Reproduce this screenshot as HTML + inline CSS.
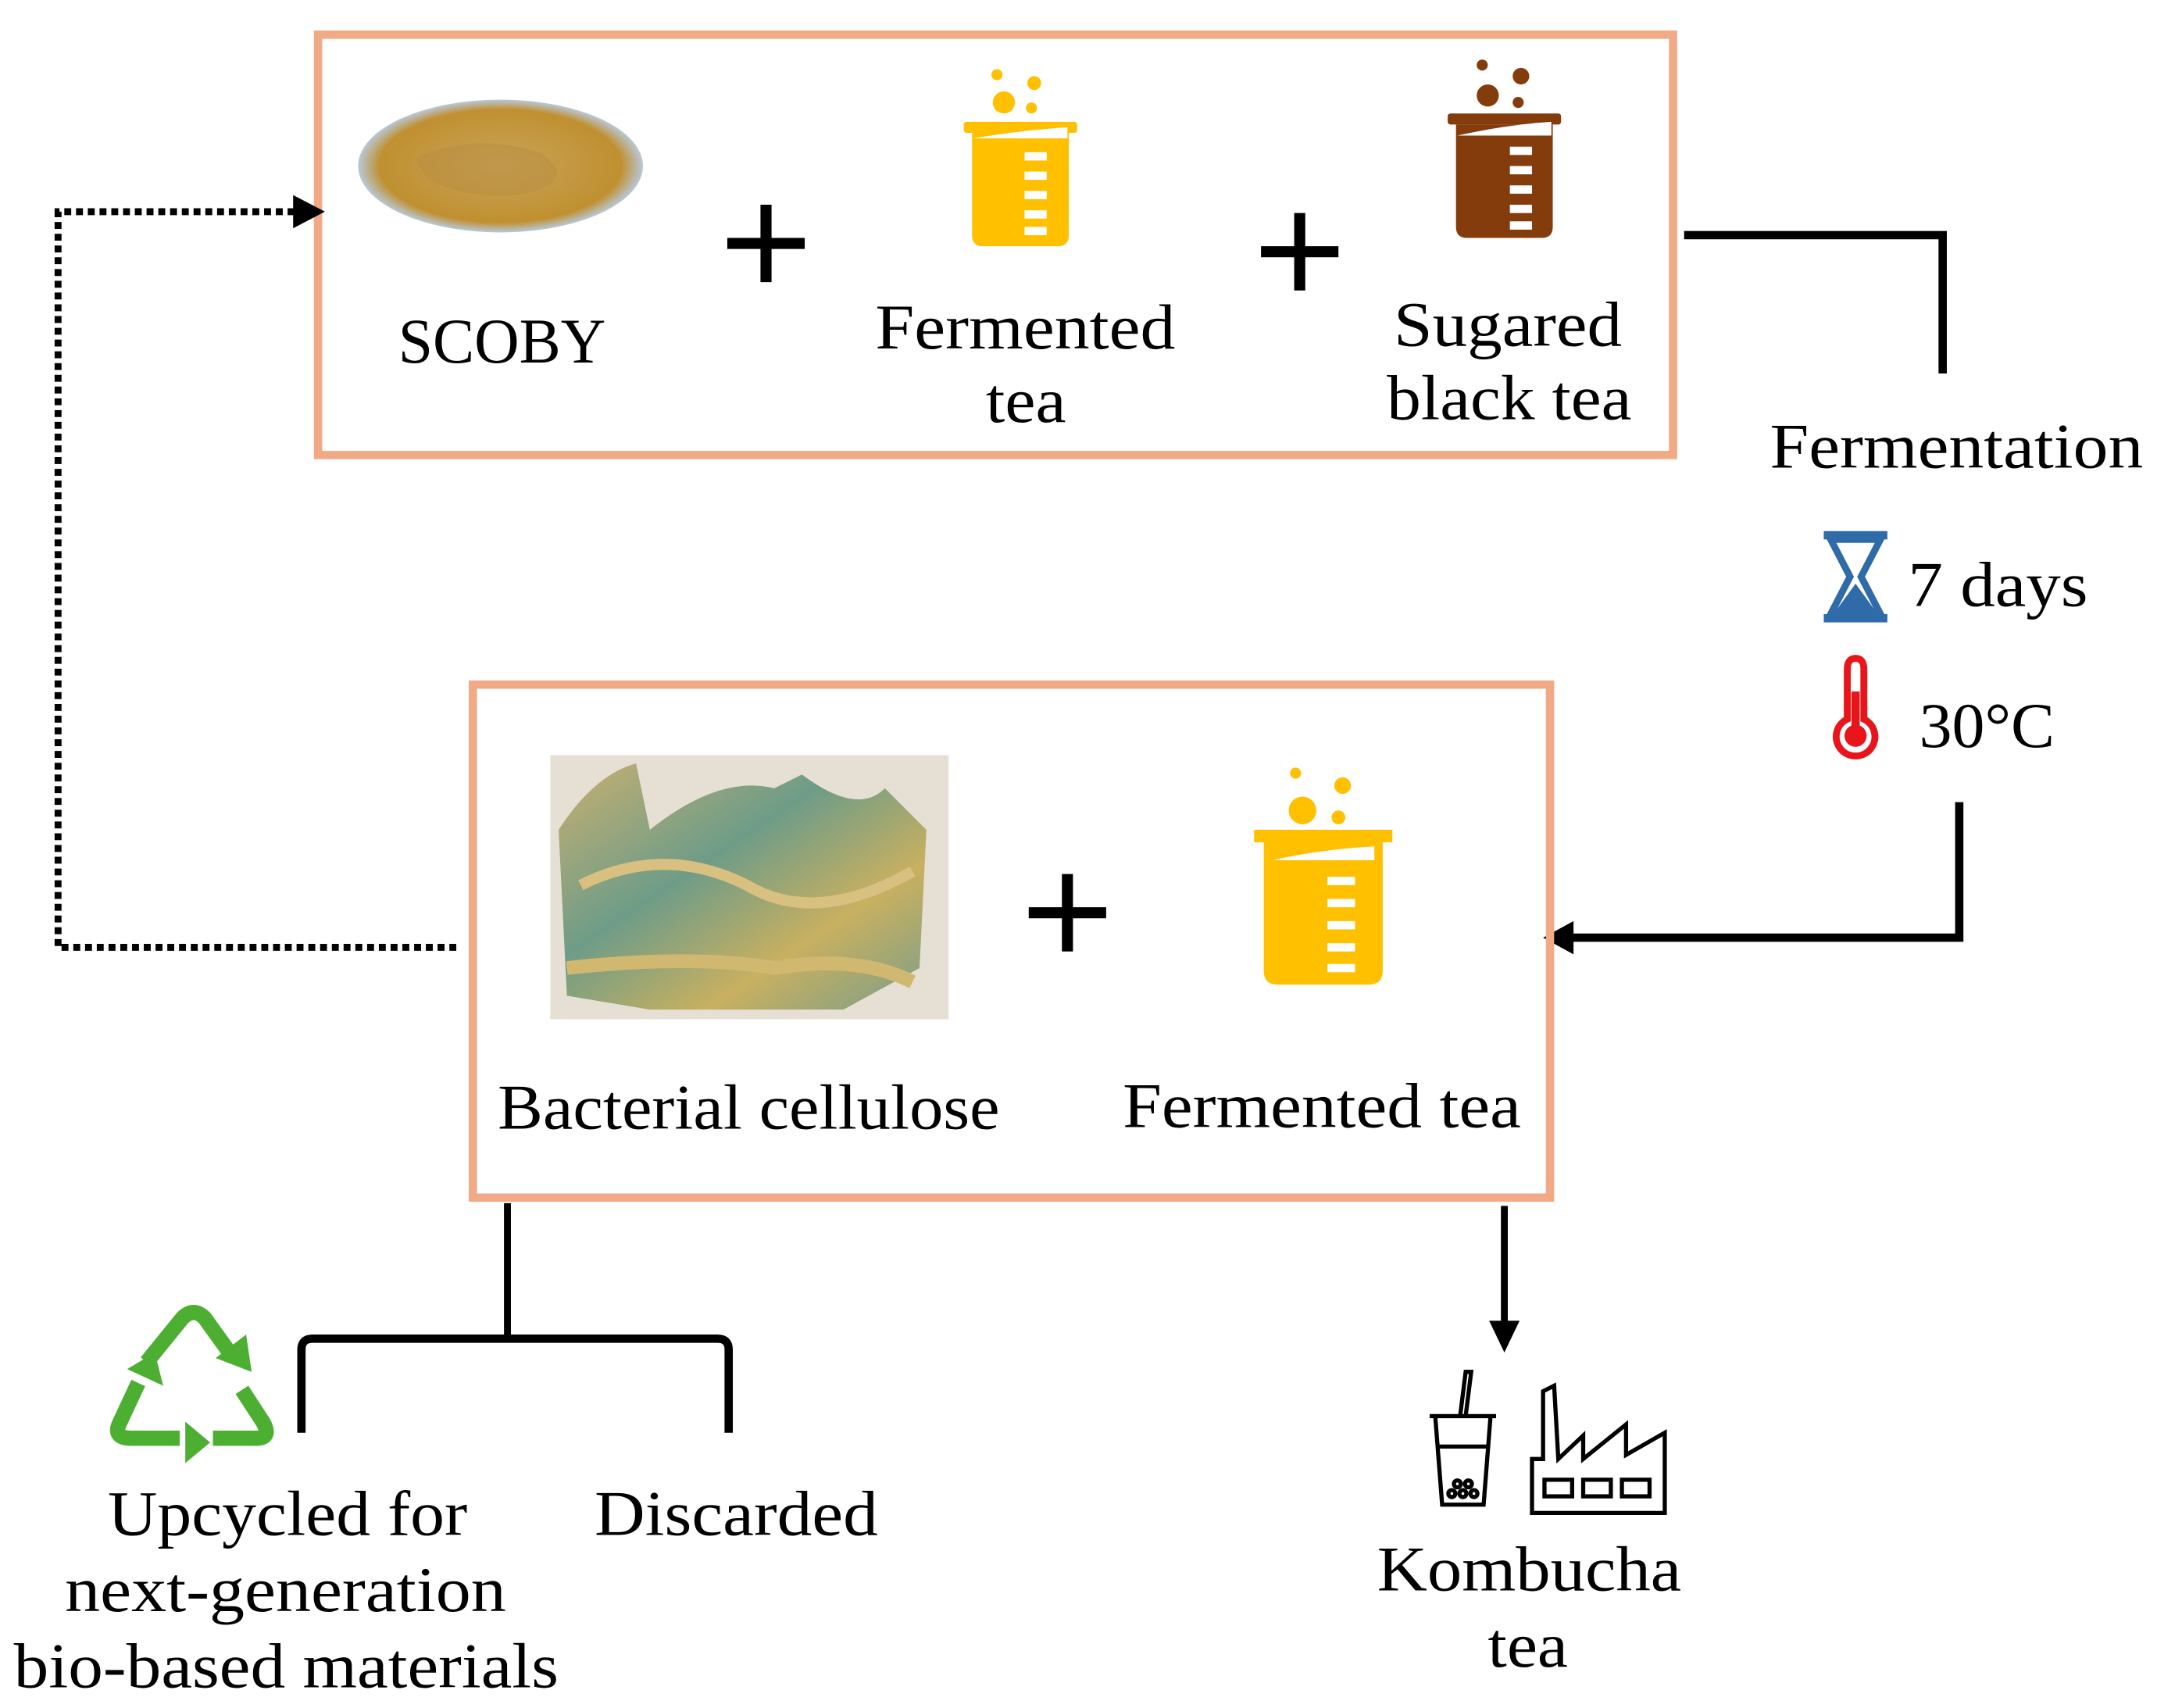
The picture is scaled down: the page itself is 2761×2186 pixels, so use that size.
<!DOCTYPE html>
<html><head><meta charset="utf-8"><style>
html,body{margin:0;padding:0;background:#fff;}
svg{display:block}
text{font-family:"Liberation Serif",serif;fill:#000;}
</style></head><body>
<svg width="2761" height="2186" viewBox="0 0 1560 1235" xmlns="http://www.w3.org/2000/svg">
<defs>
<radialGradient id="sc" cx="50%" cy="50%" r="50%"><stop offset="0" stop-color="#C9A45A"/><stop offset="0.85" stop-color="#C09030"/><stop offset="1" stop-color="#B8C8D8"/></radialGradient>
<linearGradient id="bc" x1="0" y1="0" x2="1" y2="1"><stop offset="0" stop-color="#C8B070"/><stop offset="0.4" stop-color="#6E9C88"/><stop offset="0.7" stop-color="#C8B060"/><stop offset="1" stop-color="#7A9E8A"/></linearGradient>
<g id="bk">
<rect x="-41" y="0" width="82" height="8" rx="2"/>
<path d="M-35,8 L35,8 L35,82 Q35,90 27,90 L-27,90 Q-35,90 -35,82Z"/>
</g>
</defs>
<rect x="230" y="25" width="980" height="304" fill="none" stroke="#F2AA86" stroke-width="6"/>
<ellipse cx="362" cy="120" rx="103" ry="48" fill="url(#sc)"/>
<path d="M300,115 Q340,95 390,110 Q420,130 380,140 Q340,145 310,130Z" fill="#B88C40" opacity="0.5"/>
<text x="288" y="262" font-size="46" textLength="150" lengthAdjust="spacingAndGlyphs">SCOBY</text>
<path d="M526,176 H582 M554,148 V204" stroke="#000" stroke-width="8"/>
<g fill="#FFC000">
<use href="#bk" transform="translate(738,88)"/>
<circle cx="726" cy="74" r="8"/><circle cx="748" cy="60" r="5"/><circle cx="746" cy="78" r="4"/><circle cx="721" cy="54" r="4"/>
</g>
<g fill="#fff"><rect x="741" y="110" width="16" height="6"/><rect x="741" y="124" width="16" height="6"/><rect x="741" y="138" width="16" height="6"/><rect x="741" y="152" width="16" height="6"/><rect x="741" y="164" width="16" height="6"/><path d="M704,100 L772,100 L772,92 Q740,94 704,100Z"/></g>
<text x="633" y="252" font-size="46" textLength="217" lengthAdjust="spacingAndGlyphs">Fermented</text>
<text x="713" y="305" font-size="46" textLength="58" lengthAdjust="spacingAndGlyphs">tea</text>
<path d="M912,182 H968 M940,154 V210" stroke="#000" stroke-width="8"/>
<g fill="#843C0C">
<use href="#bk" transform="translate(1088,82)"/>
<circle cx="1076" cy="69" r="8"/><circle cx="1100" cy="55" r="6"/><circle cx="1098" cy="74" r="4"/><circle cx="1072" cy="47" r="4"/>
</g>
<g fill="#fff"><rect x="1092" y="106" width="16" height="6"/><rect x="1092" y="120" width="16" height="6"/><rect x="1092" y="134" width="16" height="6"/><rect x="1092" y="148" width="16" height="6"/><rect x="1092" y="160" width="16" height="6"/><path d="M1054,98 L1122,98 L1122,88 Q1090,90 1054,98Z"/></g>
<text x="1008" y="250" font-size="46" textLength="165" lengthAdjust="spacingAndGlyphs">Sugared</text>
<text x="1003" y="303" font-size="46" textLength="177" lengthAdjust="spacingAndGlyphs">black tea</text>
<path d="M1218,170 H1405 V270" fill="none" stroke="#000" stroke-width="6"/>
<text x="1280" y="338" font-size="46" textLength="270" lengthAdjust="spacingAndGlyphs">Fermentation</text>
<g fill="#2E6BA8"><rect x="1319" y="384" width="46" height="6"/><rect x="1319" y="444" width="46" height="6"/>
<path d="M1324,390 H1360 L1346,417 L1360,444 H1324 L1338,417Z" fill="none" stroke="#2E6BA8" stroke-width="5"/>
<path d="M1342,422 L1358,444 H1326Z"/></g>
<text x="1380" y="438" font-size="46" textLength="130" lengthAdjust="spacingAndGlyphs">7 days</text>
<g fill="none" stroke="#E8161B" stroke-width="5"><path d="M1336,520 V484 Q1336,476 1342,476 Q1348,476 1348,484 V520 A14,14 0 1,1 1336,520Z"/></g>
<circle cx="1342" cy="532" r="8" fill="#E8161B"/><rect x="1339" y="500" width="6" height="32" fill="#E8161B"/>
<text x="1388" y="540" font-size="46" textLength="98" lengthAdjust="spacingAndGlyphs">30°C</text>
<path d="M1417,580 V678 H1130" fill="none" stroke="#000" stroke-width="6"/>
<path d="M1116,678 L1138,666 L1138,690Z" fill="#000"/>
<rect x="342" y="495" width="779" height="371" fill="none" stroke="#F2AA86" stroke-width="6"/>
<rect x="398" y="546" width="288" height="191" fill="#E6E0D4"/>
<path d="M410,720 L404,600 Q430,560 460,552 L470,600 Q520,560 560,570 L580,560 Q620,590 640,570 L670,600 L665,700 L610,730 L470,730Z" fill="url(#bc)"/>
<path d="M420,640 Q480,610 540,640 Q590,670 660,630" stroke="#D8C080" stroke-width="8" fill="none"/>
<path d="M410,700 Q500,690 560,700 Q620,690 660,710" stroke="#D0B870" stroke-width="10" fill="none"/>
<path d="M744,660 H800 M772,632 V688" stroke="#000" stroke-width="8"/>
<g fill="#FFC000">
<path d="M907,600 H1007 V609 H907Z"/>
<path d="M914,609 L1000,609 L1000,702 Q1000,712 990,712 L924,712 Q914,712 914,702Z"/>
<circle cx="942" cy="586" r="10"/><circle cx="971" cy="568" r="6"/><circle cx="968" cy="591" r="5"/><circle cx="937" cy="559" r="4"/>
</g>
<g fill="#fff"><rect x="960" y="634" width="20" height="6"/><rect x="960" y="650" width="20" height="6"/><rect x="960" y="666" width="20" height="6"/><rect x="960" y="682" width="20" height="6"/><rect x="960" y="697" width="20" height="6"/><path d="M920,622 L994,622 L994,612 Q956,614 920,622Z"/></g>
<text x="360" y="816" font-size="46" textLength="363" lengthAdjust="spacingAndGlyphs">Bacterial cellulose</text>
<text x="812" y="815" font-size="46" textLength="288" lengthAdjust="spacingAndGlyphs">Fermented tea</text>
<path d="M330,685 H42 V153 H215" fill="none" stroke="#000" stroke-width="5" stroke-dasharray="5 3.5"/>
<path d="M235,153 L212,141 L212,165Z" fill="#000"/>
<path d="M367,870 V968" stroke="#000" stroke-width="5"/>
<path d="M218,1036 V976 Q218,968 226,968 H519 Q527,968 527,976 V1036" fill="none" stroke="#000" stroke-width="6"/>
<g fill="none" stroke="#4DAF32" stroke-width="11" stroke-linejoin="round">
<path d="M106,985 L132,953 Q140,945 148,953 L166,978"/>
<path d="M100,1000 L86,1030 Q82,1040 95,1040 L130,1040"/>
<path d="M154,1040 L185,1040 Q197,1040 190,1028 L175,1005"/>
</g>
<g fill="#4DAF32"><path d="M156,982 L182,992 L178,965Z"/><path d="M92,990 L112,978 L118,1002Z"/><path d="M134,1028 L134,1058 L152,1043Z"/></g>
<text x="78" y="1110" font-size="46" textLength="260" lengthAdjust="spacingAndGlyphs">Upcycled for</text>
<text x="47" y="1165" font-size="46" textLength="319" lengthAdjust="spacingAndGlyphs">next-generation</text>
<text x="10" y="1220" font-size="46" textLength="394" lengthAdjust="spacingAndGlyphs">bio-based materials</text>
<text x="430" y="1110" font-size="46" textLength="205" lengthAdjust="spacingAndGlyphs">Discarded</text>
<path d="M1088,872 V960" stroke="#000" stroke-width="5"/>
<path d="M1088,978 L1077,955 L1099,955Z" fill="#000"/>
<g fill="none" stroke="#000" stroke-width="3">
<path d="M1034,1024 H1082 M1038,1024 L1043,1088 H1073 L1078,1024 M1040,1046 H1076"/>
<path d="M1056,1024 L1060,992 L1064,992 L1060,1024"/>
<circle cx="1050" cy="1080" r="2.5"/><circle cx="1058" cy="1080" r="2.5"/><circle cx="1066" cy="1080" r="2.5"/><circle cx="1054" cy="1073" r="2.5"/><circle cx="1062" cy="1073" r="2.5"/>
<path d="M1108,1094 V1055 L1116,1055 V1006 L1124,1002 L1127,1055 L1145,1038 V1055 L1176,1030 V1052 L1204,1036 V1094Z"/>
<rect x="1117" y="1070" width="20" height="12"/><rect x="1145" y="1070" width="20" height="12"/><rect x="1173" y="1070" width="20" height="12"/>
</g>
<text x="996" y="1150" font-size="46" textLength="220" lengthAdjust="spacingAndGlyphs">Kombucha</text>
<text x="1076" y="1205" font-size="46" textLength="58" lengthAdjust="spacingAndGlyphs">tea</text>
</svg>
</body></html>
